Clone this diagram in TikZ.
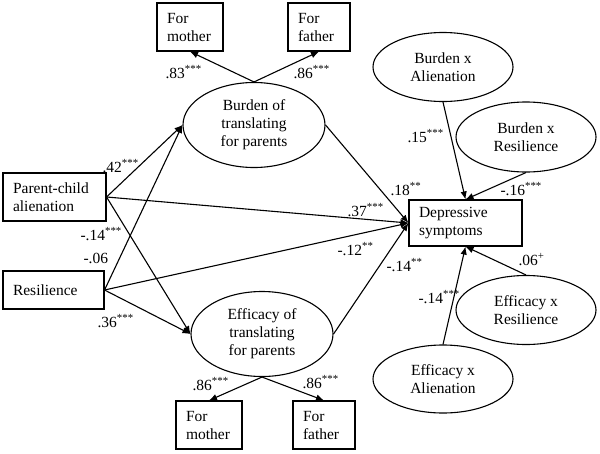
\documentclass[tikz,border=0pt]{standalone}
\usepackage{fontspec}
\setmainfont{Liberation Serif}
\usetikzlibrary{arrows.meta,shapes.geometric}

\begin{document}
\begin{tikzpicture}[x=1pt,y=-1pt,line width=1.1pt,>={Latex[length=8pt,width=6.5pt]},
    font=\fontsize{15.5}{18}\selectfont,
    box/.style={draw,align=left,inner xsep=10pt,inner ysep=0pt,text width=#1,minimum height=48pt},
    oval/.style={draw,ellipse,align=center,inner sep=0pt,minimum width=142pt,minimum height=85pt},
    prod/.style={draw,ellipse,align=center,inner sep=0pt,minimum width=140pt,minimum height=69pt},
    lab/.style={anchor=base west,inner sep=0pt}]
                \useasboundingbox (0,0) rectangle (600,453);
                % measured and latent variables
                \node[box=46pt] (momB) at (190,27) {For\\mother};
                \node[box=42pt] (dadB) at (319,27) {For\\father};
                \node[oval] (burden) at (254,125) {Burden of\\translating\\for parents};
                \node[box=83pt] (alien) at (54.5,197) {Parent-child\\alienation};
                \node[box=81pt,minimum height=38pt] (resil) at (53.5,290) {Resilience};
                \node[oval] (effic) at (262,334) {Efficacy of\\translating\\for parents};
                \node[box=46pt] (momE) at (209,425) {For\\mother};
                \node[box=42pt] (dadE) at (324,425) {For\\father};
                \node[box=93pt,minimum height=46pt] (dep) at (465.5,223) {Depressive\\symptoms};
                % interaction terms
                \node[prod] (bxa) at (443,67) {Burden x\\Alienation};
                \node[prod,minimum height=70pt] (bxr) at (526,137) {Burden x\\Resilience};
                \node[prod] (exr) at (526,310) {Efficacy x\\Resilience};
                \node[prod,minimum height=68pt] (exa) at (443,379) {Efficacy x\\Alienation};
                % paths
                \draw[->] (burden.north) -- (momB.south);
                \draw[->] (burden.north) -- (dadB.south);
                \draw[->] (effic.south) -- (momE.north);
                \draw[->] (effic.south) -- (dadE.north);
                \draw[->] (alien.east) -- (burden.west);
                \draw[->] (resil.east) -- (burden.west);
                \draw[->] (alien.east) -- (effic.west);
                \draw[->] (resil.east) -- (effic.west);
                \draw[->] (alien.east) -- (dep.west);
                \draw[->] (resil.east) -- (dep.west);
                \draw[->] (burden.east) -- (dep.west);
                \draw[->] (effic.east) -- (dep.west);
                \draw[->] (bxa.south) -- (dep.north);
                \draw[->] (bxr.south) -- (dep.north);
                \draw[->] (exa.north) -- (dep.south);
                \draw[->] (exr.north) -- (dep.south);
                % coefficients
                \node[lab] (c83) at (165,78) {.83\textsuperscript{***}};
                \node[lab] (c86a) at (293,78) {.86\textsuperscript{***}};
                \node[lab] (c42) at (102,172) {.42\textsuperscript{***}};
                \node[lab] (c14a) at (80,240) {-.14\textsuperscript{***}};
                \node[lab] (c06a) at (83,263) {-.06};
                \node[lab] (c36) at (97,327) {.36\textsuperscript{***}};
                \node[lab] (c37) at (347,216) {.37\textsuperscript{***}};
                \node[lab] (c18) at (390,195) {.18\textsuperscript{**}};
                \node[lab] (c12) at (337,255) {-.12\textsuperscript{**}};
                \node[lab] (c14b) at (386,271) {-.14\textsuperscript{**}};
                \node[lab] (c15) at (407,142) {.15\textsuperscript{***}};
                \node[lab] (c16) at (500,195) {-.16\textsuperscript{***}};
                \node[lab] (c06b) at (518,265) {.06\textsuperscript{+}};
                \node[lab] (c14c) at (418,303) {-.14\textsuperscript{***}};
                \node[lab] (c86b) at (192,390) {.86\textsuperscript{***}};
                \node[lab] (c86c) at (302,388) {.86\textsuperscript{***}};
            \end{tikzpicture}
\end{document}
